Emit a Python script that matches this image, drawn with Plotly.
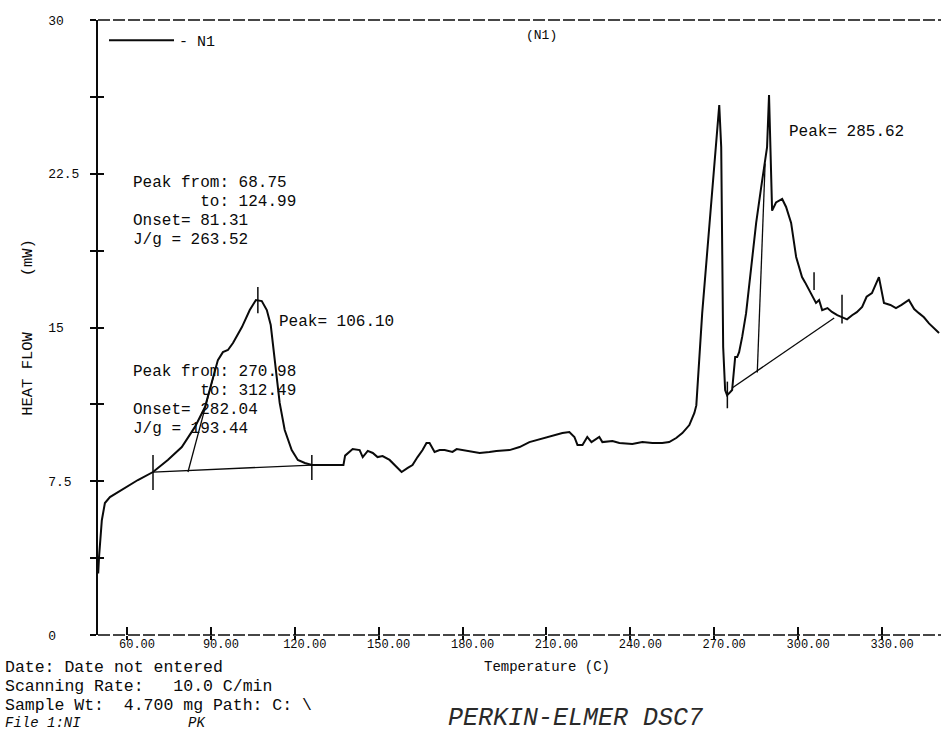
import plotly.graph_objects as go

# ---------------- data ----------------
temperature = [
    49.7, 50.0, 51.0, 52.1, 53.9, 58.1, 63.9, 69.3, 74.6, 79.6,
    84.3, 87.9, 90.7, 92.5, 94.3, 96.1, 97.9, 101.1, 103.9, 106.1,
    108.2, 110.0, 111.4, 112.9, 114.6, 116.4, 118.9, 121.1, 123.6, 126.1,
    131.8, 137.4, 138.0, 140.7, 143.2, 144.3, 146.1, 147.9, 149.6, 151.4,
    153.9, 156.4, 158.2, 160.4, 162.1, 163.9, 165.7, 167.1, 168.2, 170.0,
    171.8, 173.6, 176.4, 177.9, 180.0, 182.5, 186.1, 189.6, 192.1, 196.8,
    200.4, 203.9, 206.4, 211.1, 213.6, 215.7, 218.2, 220.0, 221.1, 222.9,
    224.6, 226.1, 228.9, 230.0, 233.6, 236.1, 240.7, 244.3, 247.9, 251.4,
    253.9, 256.4, 258.6, 261.1, 262.9, 263.6, 265.7, 268.2, 270.0, 271.1,
    271.8, 272.5, 272.9, 273.2, 273.9, 274.6, 275.4, 276.4, 277.5, 278.2,
    278.9, 280.0, 281.4, 283.2, 285.0, 286.8, 287.9, 288.9, 289.6, 290.4,
    290.7, 292.1, 294.3, 295.7, 297.5, 299.3, 301.4, 302.5, 303.9, 305.0,
    306.4, 307.5, 308.6, 310.5, 312.1, 314.0, 315.7, 317.5, 319.3, 321.0,
    322.9, 324.5, 326.4, 328.9, 330.7, 333.0, 335.0, 337.0, 339.6, 341.5,
    343.2, 345.0, 346.8, 348.5, 350.4,
]
heat_flow = [
    3.0, 3.8, 5.6, 6.44, 6.73, 7.07, 7.56, 7.95, 8.54, 9.17,
    10.15, 11.12, 12.44, 13.41, 13.80, 13.90, 14.24, 15.02, 15.85, 16.34,
    16.29, 15.85, 15.12, 13.27, 11.32, 10.0, 9.02, 8.54, 8.39, 8.29,
    8.29, 8.29, 8.75, 9.07, 9.02, 8.68, 8.98, 8.88, 8.68, 8.73,
    8.54, 8.20, 7.95, 8.15, 8.29, 8.68, 9.02, 9.37, 9.37, 8.93,
    9.02, 9.02, 8.93, 9.07, 9.02, 8.93, 8.88, 8.93, 8.98, 9.02,
    9.17, 9.41, 9.51, 9.66, 9.76, 9.85, 9.90, 9.66, 9.27, 9.27,
    9.66, 9.41, 9.66, 9.41, 9.46, 9.37, 9.32, 9.41, 9.37, 9.37,
    9.41, 9.61, 9.85, 10.24, 10.83, 11.2, 15.7, 19.76, 23.0, 24.6,
    25.85, 23.8, 18.9, 14.05, 11.95, 11.7, 11.8, 11.95, 13.56, 13.56,
    13.8, 14.54, 15.7, 17.95, 20.1, 21.85, 22.83, 23.8, 26.34, 23.0,
    20.7, 21.1, 21.27, 20.88, 20.1, 18.44, 17.46, 17.2, 16.83, 16.6,
    16.2, 16.34, 15.85, 15.95, 15.76, 15.6, 15.5, 15.4, 15.6, 15.75,
    16.0, 16.5, 16.68, 17.46, 16.2, 16.1, 15.95, 16.1, 16.34, 15.9,
    15.7, 15.5, 15.2, 15.0, 14.73,
]
assert len(temperature) == len(heat_flow)

# integration baselines and onset tangents
baseline1_t = [69.3, 126.1]
baseline1_v = [7.95, 8.29]
onset1_t = [81.8, 91.1]
onset1_v = [7.95, 12.7]
baseline2_t = [276.4, 312.9]
baseline2_v = [12.05, 15.46]
onset2_t = [285.4, 288.2]
onset2_v = [12.8, 23.0]

# short vertical limit / peak markers on the trace
marker_t = [69.3, 126.1, 106.8, 274.7, 305.7, 315.7]
marker_lo = [7.07, 7.56, 15.7, 11.06, 16.83, 15.2]
marker_hi = [8.78, 8.78, 16.98, 12.36, 17.7, 16.6]

x_ticks = [60, 90, 120, 150, 180, 210, 240, 270, 300, 330]
y_ticks = [0, 3.75, 7.5, 11.25, 15, 18.75, 22.5, 26.25, 30]
y_tick_labels = ["0", "", "7.5", "", "15", "", "22.5", "", "30"]

X_RANGE = [49.63, 351.1]
Y_RANGE = [0, 30]

MONO = "Liberation Mono, DejaVu Sans Mono, monospace"
INK = "#0a0a0a"
NB = "\u00a0"

# ---------------- figure ----------------
fig = go.Figure()

fig.add_trace(go.Scatter(
    x=temperature, y=heat_flow, mode="lines", name="- N1",
    line=dict(color=INK, width=2), showlegend=True,
))

for tt, vv in [(baseline1_t, baseline1_v), (onset1_t, onset1_v),
               (baseline2_t, baseline2_v), (onset2_t, onset2_v)]:
    fig.add_trace(go.Scatter(x=tt, y=vv, mode="lines", showlegend=False,
                             line=dict(color=INK, width=1.3)))

mx, my = [], []
for t, lo, hi in zip(marker_t, marker_lo, marker_hi):
    mx += [t, t, None]
    my += [lo, hi, None]
fig.add_trace(go.Scatter(x=mx, y=my, mode="lines", showlegend=False,
                         line=dict(color=INK, width=1.5)))

# dummy trace to anchor the overlay axes (cross-through ticks)
fig.add_trace(go.Scatter(x=[None], y=[None], xaxis="x2", yaxis="y2",
                         showlegend=False, hoverinfo="skip"))

L, R, T, B = 98, 0, 20, 98
W, H = 941, 733
PW, PH = W - L - R, H - T - B


def px(xp):
    return (xp - L) / PW


def py(yp):
    return (H - B - yp) / PH


def note(text, x, y, size=16, anchor="left", italic=False, color=INK):
    t = text.replace(" ", NB)
    if italic:
        t = "<i>" + t + "</i>"
    fig.add_annotation(text=t, x=px(x), y=py(y), xref="paper", yref="paper",
                       xanchor=anchor, yanchor="middle", showarrow=False,
                       font=dict(family=MONO, size=size, color=color))


# peak reports
for i, s in enumerate(["Peak from: 68.75", "       to: 124.99",
                       "Onset= 81.31", "J/g = 263.52"]):
    note(s, 131, 183 + 19 * i)
for i, s in enumerate(["Peak from: 270.98", "       to: 312.49",
                       "Onset= 282.04", "J/g = 193.44"]):
    note(s, 131, 372 + 19 * i)
note("Peak= 106.10", 277, 322)
note("Peak= 285.62", 787, 132)
note("(N1)", 541, 35, size=13, anchor="center")

# footer
note("Temperature (C)", 547, 667, size=14, anchor="center")
note("Date: Date not entered", 3, 667, size=16.5)
note("Scanning Rate:   10.0 C/min", 3, 686, size=16.5)
note("Sample Wt:  4.700 mg Path: C: \\", 3, 705, size=16.5)
note("File 1:NI", 3, 723, size=14, italic=True)
note("PK", 186, 723, size=14, italic=True)
note("PERKIN-ELMER DSC7", 446, 718, size=25, italic=True, color="#2a2a2a")

# dashed frame lines (top and bottom)
for yy in (0, 1):
    fig.add_shape(type="line", xref="paper", yref="paper", x0=0, x1=1,
                  y0=yy, y1=yy, line=dict(color=INK, width=1.5, dash="12px,3px"))

ytext = [s + NB * (4 - len(s)) if s else "" for s in y_tick_labels]

fig.update_layout(
    width=W, height=H,
    margin=dict(l=L, r=R, t=T, b=B),
    paper_bgcolor="white", plot_bgcolor="white",
    font=dict(family=MONO, color=INK),
    showlegend=True,
    legend=dict(x=px(104), y=py(24), xanchor="left", yanchor="top",
                bgcolor="rgba(0,0,0,0)", font=dict(family=MONO, size=15),
                itemwidth=65),
    xaxis=dict(
        range=X_RANGE, showgrid=False, zeroline=False, showline=False,
        tickvals=x_ticks, ticktext=[f"{v:.2f}" for v in x_ticks],
        ticks="inside", ticklen=8, tickwidth=1.5, tickcolor=INK,
        tickfont=dict(family=MONO, size=12), ticklabelshift=10,
    ),
    xaxis2=dict(
        range=X_RANGE, overlaying="x", anchor="y", showgrid=False,
        zeroline=False, showline=False, tickvals=x_ticks, showticklabels=False,
        ticks="outside", ticklen=4, tickwidth=1.5, tickcolor=INK,
    ),
    yaxis=dict(
        range=Y_RANGE, showgrid=False, zeroline=False, showline=True,
        linecolor=INK, linewidth=2,
        tickvals=y_ticks, ticktext=ytext,
        ticks="outside", ticklen=6, tickwidth=1.5, tickcolor=INK,
        tickfont=dict(family=MONO, size=13), ticklabelstandoff=8,
        title=dict(text="HEAT FLOW" + NB * 6 + "(mW)",
                   font=dict(family=MONO, size=15.5), standoff=12),
    ),
    yaxis2=dict(
        range=Y_RANGE, overlaying="y", anchor="x", side="left",
        showgrid=False, zeroline=False, showline=False,
        tickvals=y_ticks, showticklabels=False,
        ticks="inside", ticklen=6, tickwidth=1.5, tickcolor=INK,
    ),
)

fig.write_html("out.html")
